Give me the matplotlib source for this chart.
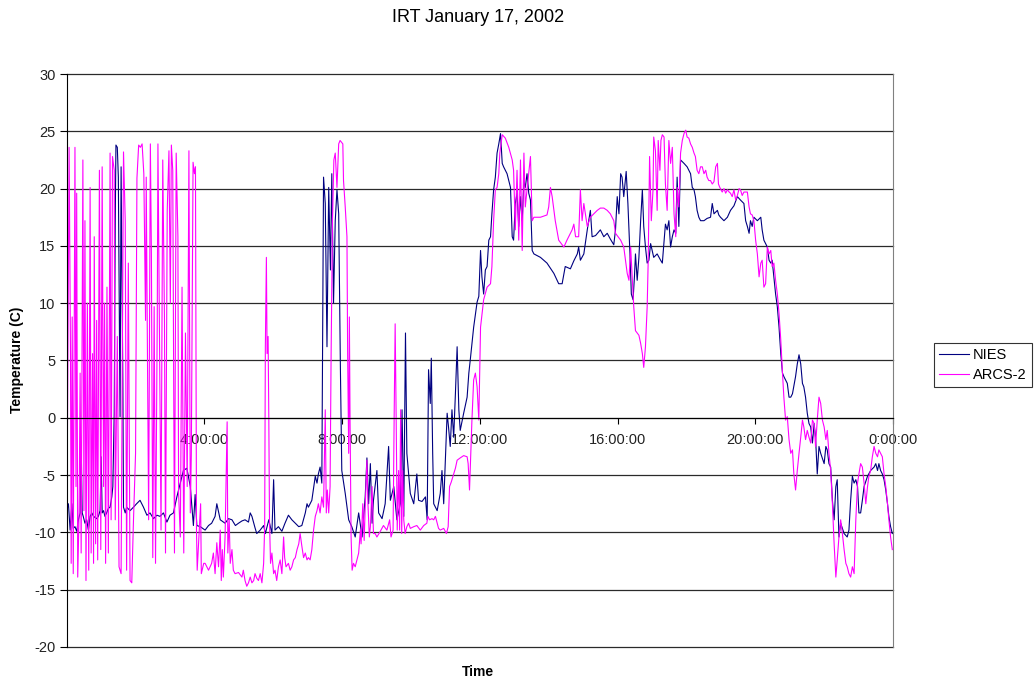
import matplotlib
matplotlib.use("Agg")
import matplotlib.pyplot as plt

plt.rcParams['font.family'] = ['Liberation Sans', 'DejaVu Sans']
plt.rcParams['axes.unicode_minus'] = False

title = "IRT January 17, 2002"
series_names = ["NIES", "ARCS-2"]
tick_hours = [4, 8, 12, 16, 20, 24]
tick_labels = ["4:00:00", "8:00:00", "12:00:00", "16:00:00", "20:00:00", "0:00:00"]

# (hour of day, temperature C)
nies_points = [
    (0.00, -8.1), (0.05, -7.5), (0.10, -9.8), (0.15, -7.5), (0.19, -9.65), (0.24, -9.5),
    (0.29, -9.9), (0.34, -8.9), (0.39, -8.3), (0.42, -2.2), (0.45, -8.3), (0.48, -8.6),
    (0.53, -9.2), (0.58, -8.9), (0.63, -9.8), (0.68, -8.6), (0.73, -8.3), (0.78, -8.6),
    (0.87, -8.8), (0.92, -8.6), (0.97, -8.1), (1.00, -3.4), (1.03, -8.3), (1.07, -8.1),
    (1.11, -8.6), (1.16, -8.3), (1.21, -7.9), (1.26, -7.8), (1.31, -6.9), (1.34, -6.0),
    (1.38, 0.4), (1.41, 17.2), (1.43, 23.8), (1.47, 23.6), (1.50, 21.0), (1.53, 8.5),
    (1.55, 0.1), (1.58, 21.9), (1.61, 11.4), (1.63, 3.3), (1.65, -7.8), (1.70, -8.3),
    (1.74, -7.8), (1.84, -8.1), (1.94, -7.8), (2.03, -7.5), (2.13, -7.2), (2.23, -7.8),
    (2.33, -8.5), (2.42, -8.3), (2.52, -8.8), (2.62, -8.5), (2.71, -8.6), (2.81, -8.3),
    (2.91, -9.1), (3.00, -8.5), (3.10, -8.3), (3.20, -6.9), (3.39, -4.6), (3.49, -4.4),
    (3.59, -6.0), (3.68, -9.4), (3.73, -6.7), (3.78, -9.4), (3.88, -9.5),
    (4.02, -9.8), (4.12, -9.4), (4.21, -9.2), (4.31, -8.6), (4.36, -7.5), (4.46, -8.9),
    (4.60, -9.2), (4.70, -8.8), (4.80, -8.9), (4.90, -9.4), (4.99, -9.2), (5.09, -9.0),
    (5.18, -8.9), (5.28, -9.1), (5.33, -8.3), (5.38, -8.6), (5.47, -9.6), (5.52, -10.1),
    (5.62, -9.8), (5.72, -9.4), (5.77, -10.1), (5.87, -8.9), (5.96, -10.1), (6.01, -5.4),
    (6.05, -9.8), (6.15, -9.5), (6.25, -9.9), (6.34, -9.2), (6.44, -8.5), (6.54, -8.9),
    (6.64, -9.2), (6.74, -9.5), (6.83, -9.4), (6.93, -8.3), (6.98, -7.5), (7.02, -7.8),
    (7.12, -7.2), (7.22, -5.1), (7.27, -5.7), (7.31, -4.9), (7.36, -4.3), (7.41, -5.7),
    (7.46, 21.0), (7.51, 18.7), (7.56, 6.2), (7.61, 20.1), (7.66, 12.9), (7.70, 21.3),
    (7.75, 10.0), (7.80, 17.2), (7.85, 19.9), (7.90, 17.8), (7.95, 4.2), (7.99, -4.6),
    (8.09, -6.6), (8.19, -8.9), (8.28, -9.5), (8.38, -10.4), (8.48, -8.3), (8.58, -10.4),
    (8.67, -6.9), (8.72, -3.5), (8.77, -7.5), (8.82, -4.0), (8.87, -9.2), (8.91, -7.2),
    (9.01, -4.6), (9.06, -8.3), (9.16, -8.8), (9.25, -7.5), (9.35, -2.5), (9.40, -7.2),
    (9.50, -6.0), (9.59, -8.9), (9.69, -7.5), (9.74, 0.7), (9.79, -8.6), (9.84, 7.4),
    (9.88, -3.1), (9.98, -6.6), (10.08, -7.5), (10.17, -4.9), (10.22, -7.2), (10.32, -7.3),
    (10.42, -6.9), (10.47, -8.9), (10.51, 4.2), (10.56, 1.25), (10.59, 5.2), (10.63, -3.1),
    (10.66, -7.5), (10.76, -8.1), (10.85, -6.6), (10.90, -4.6), (10.95, -7.5), (11.05, 0.4),
    (11.09, -0.8), (11.14, -2.5), (11.19, 0.7), (11.24, -1.7), (11.29, 2.1), (11.34, 6.2),
    (11.39, 0.7), (11.43, -1.1), (11.53, 0.4), (11.63, 1.8), (11.68, 3.9), (11.72, 5.0),
    (11.82, 7.9), (11.92, 10.1), (11.97, 10.6), (12.02, 14.6), (12.06, 12.3), (12.11, 10.8),
    (12.16, 12.9), (12.21, 13.2), (12.26, 15.5), (12.31, 15.8), (12.35, 17.8), (12.40, 19.9),
    (12.45, 21.0), (12.50, 23.1), (12.55, 23.9), (12.60, 24.8), (12.65, 22.2), (12.69, 21.9),
    (12.79, 21.3), (12.89, 20.1), (12.94, 15.8), (12.98, 15.5), (13.03, 18.7), (13.08, 19.6),
    (13.13, 16.7), (13.18, 19.3), (13.23, 17.2), (13.28, 20.7), (13.32, 20.1), (13.37, 21.3),
    (13.42, 19.6), (13.47, 19.0), (13.52, 14.6), (13.57, 14.3), (13.76, 14.0), (13.95, 13.5),
    (14.15, 12.6), (14.29, 11.7), (14.39, 11.7), (14.48, 13.2), (14.63, 13.0), (14.73, 13.7),
    (14.83, 14.3), (14.87, 14.9), (14.92, 13.75), (15.02, 14.3), (15.12, 16.4), (15.21, 18.1),
    (15.26, 15.8), (15.36, 15.9), (15.50, 16.4), (15.60, 15.8), (15.70, 16.1), (15.79, 15.6),
    (15.89, 15.1), (15.94, 16.4), (15.99, 19.3), (16.04, 17.8), (16.09, 21.3), (16.13, 21.0),
    (16.18, 19.3), (16.25, 21.5), (16.30, 18.7), (16.36, 14.3), (16.40, 10.8), (16.45, 10.3),
    (16.49, 12.3), (16.52, 14.3), (16.57, 12.0), (16.62, 14.0), (16.67, 17.2), (16.72, 19.9),
    (16.76, 16.7), (16.81, 14.9), (16.86, 13.5), (16.91, 13.75), (16.96, 15.2), (17.05, 14.0),
    (17.15, 14.3), (17.25, 13.75), (17.30, 13.5), (17.39, 16.9), (17.44, 16.4), (17.49, 17.2),
    (17.54, 14.9), (17.59, 15.8), (17.64, 16.4), (17.69, 16.1), (17.73, 21.0), (17.78, 16.7),
    (17.83, 22.5), (17.93, 22.2), (18.02, 21.9), (18.12, 21.3), (18.17, 20.1), (18.22, 19.9),
    (18.26, 19.3), (18.31, 18.1), (18.36, 17.5), (18.41, 17.2), (18.51, 17.2), (18.60, 17.4),
    (18.70, 17.5), (18.75, 18.7), (18.80, 17.8), (18.90, 18.1), (18.94, 17.7), (18.99, 17.5),
    (19.09, 17.2), (19.19, 17.5), (19.28, 18.1), (19.38, 18.5), (19.48, 19.3), (19.57, 19.0),
    (19.67, 18.7), (19.72, 17.2), (19.77, 16.7), (19.82, 16.1), (19.86, 17.2), (19.91, 16.7),
    (19.96, 17.5), (20.06, 17.2), (20.16, 17.5), (20.20, 16.4), (20.25, 15.5), (20.35, 14.9),
    (20.40, 13.75), (20.45, 13.5), (20.49, 13.75), (20.54, 12.3), (20.59, 10.8), (20.64, 9.7),
    (20.69, 7.9), (20.74, 5.6), (20.79, 3.9), (20.83, 3.6), (20.93, 3.0), (20.98, 1.8),
    (21.03, 1.8), (21.08, 2.1), (21.17, 3.6), (21.22, 4.7), (21.27, 5.5), (21.32, 4.7),
    (21.37, 3.0), (21.41, 2.7), (21.46, 1.8), (21.51, 0.4), (21.56, -0.5), (21.61, -0.8),
    (21.66, -2.2), (21.71, -0.5), (21.75, -1.7), (21.80, -4.9), (21.85, -2.5), (21.90, -3.1),
    (22.00, -4.0), (22.05, -2.5), (22.09, -2.8), (22.14, -4.0), (22.19, -4.3), (22.24, -7.2),
    (22.29, -8.9), (22.34, -6.0), (22.38, -5.4), (22.43, -10.4), (22.48, -9.2), (22.58, -10.1),
    (22.67, -10.4), (22.72, -9.8), (22.77, -7.2), (22.82, -5.1), (22.87, -5.7), (22.92, -5.4),
    (22.97, -6.0), (23.01, -8.3), (23.06, -8.3), (23.11, -7.2), (23.16, -6.0), (23.26, -5.1),
    (23.35, -4.6), (23.45, -4.3), (23.50, -4.0), (23.55, -4.6), (23.59, -4.0), (23.64, -4.6),
    (23.69, -4.9), (23.74, -5.4), (23.79, -6.3), (23.84, -7.5), (23.88, -8.6), (23.93, -9.5),
    (23.98, -10.1),
]

arcs_points = [
    (0.00, -12.4), (0.07, 23.6), (0.11, 5.6), (0.13, -12.7), (0.16, 8.8), (0.19, -13.6),
    (0.24, 23.6), (0.27, -6.0), (0.29, 19.6), (0.32, -13.9), (0.36, -8.3), (0.39, 3.9),
    (0.42, -11.8), (0.47, 22.5), (0.50, -8.1), (0.53, 17.2), (0.56, -14.2), (0.60, 10.0),
    (0.64, -13.3), (0.68, 20.1), (0.71, -11.8), (0.75, 5.6), (0.78, -12.7), (0.80, 15.8),
    (0.84, -11.0), (0.87, 8.5), (0.90, -12.4), (0.95, 21.6), (0.99, -11.5), (1.03, 21.9),
    (1.07, -6.0), (1.10, 10.0), (1.13, -12.7), (1.17, 11.4), (1.21, -11.8), (1.26, 23.1),
    (1.29, -8.9), (1.33, 22.8), (1.38, 21.6), (1.41, -8.9), (1.47, 7.1), (1.52, -13.0),
    (1.58, -13.6), (1.65, 23.2), (1.70, 17.2), (1.74, -13.3), (1.79, 13.5), (1.84, -14.2),
    (1.89, -14.4), (1.94, -8.9), (2.00, -3.1), (2.04, 20.9), (2.09, 23.8), (2.14, 23.6),
    (2.19, 23.9), (2.24, 21.3), (2.29, 8.5), (2.31, 21.0), (2.33, 12.0), (2.38, -8.9),
    (2.43, 23.9), (2.46, 14.3), (2.50, -12.2), (2.54, 9.7), (2.58, -12.7), (2.63, 8.5),
    (2.65, 23.9), (2.69, 9.4), (2.74, -9.8), (2.79, 22.5), (2.84, 8.5), (2.87, -11.8),
    (2.92, 18.1), (2.97, 23.3), (3.01, 10.0), (3.04, 23.8), (3.08, 21.6), (3.13, -11.8),
    (3.18, 23.1), (3.23, 15.8), (3.25, -6.6), (3.30, -10.4), (3.35, 11.4), (3.40, -11.8),
    (3.45, 7.4), (3.50, -6.0), (3.55, 23.3), (3.59, -8.3), (3.62, -3.1), (3.67, 22.3),
    (3.71, 21.3), (3.74, 21.9), (3.77, -9.8), (3.79, -13.3), (3.84, -10.4), (3.89, -7.5),
    (3.91, -13.6), (3.98, -12.7),
    (4.02, -12.7), (4.12, -13.3), (4.21, -12.7), (4.26, -11.8), (4.31, -13.6), (4.36, -10.9),
    (4.41, -13.0), (4.46, -9.8), (4.49, -14.2), (4.52, -11.5), (4.55, -13.9), (4.60, -10.4),
    (4.63, -5.1), (4.66, -0.35), (4.68, -11.8), (4.72, -8.9), (4.75, -12.7), (4.80, -11.5),
    (4.84, -13.3), (4.89, -13.6), (4.99, -13.5), (5.09, -13.9), (5.13, -13.3), (5.18, -14.2),
    (5.23, -14.7), (5.28, -14.4), (5.33, -13.9), (5.38, -14.4), (5.43, -14.2), (5.47, -13.6),
    (5.52, -14.0), (5.57, -14.2), (5.62, -13.6), (5.67, -14.4), (5.72, -12.7), (5.75, -9.5),
    (5.77, 6.2), (5.80, 14.0), (5.82, 5.6), (5.85, 7.1), (5.87, 0.1), (5.89, -8.9),
    (5.92, -12.7), (5.96, -11.8), (6.01, -13.6), (6.05, -13.3), (6.10, -14.2), (6.15, -13.0),
    (6.20, -12.4), (6.25, -13.6), (6.30, -10.4), (6.33, -12.2), (6.37, -13.0), (6.44, -12.7),
    (6.49, -13.3), (6.54, -13.0), (6.59, -12.4), (6.64, -12.2), (6.69, -11.5), (6.74, -11.0),
    (6.78, -10.1), (6.83, -11.2), (6.88, -12.2), (6.93, -11.8), (6.98, -12.4), (7.02, -12.2),
    (7.07, -12.4), (7.12, -11.5), (7.17, -9.8), (7.22, -8.6), (7.27, -8.1), (7.31, -7.5),
    (7.36, -8.3), (7.41, -6.9), (7.46, -7.8), (7.51, 0.7), (7.54, -8.3), (7.57, -6.3),
    (7.61, -8.3), (7.65, -6.0), (7.68, 5.6), (7.72, 17.2), (7.76, 22.5), (7.80, 23.1),
    (7.85, 20.1), (7.90, 23.9), (7.94, 24.2),
    (8.02, 23.9), (8.04, 20.7), (8.09, 18.4), (8.14, 15.8), (8.16, 5.6), (8.19, -3.1),
    (8.21, 8.8), (8.23, -0.2), (8.26, -10.4), (8.29, -13.3), (8.33, -12.7), (8.38, -13.0),
    (8.43, -12.4), (8.48, -11.8), (8.53, -9.8), (8.55, -11.0), (8.60, -7.5), (8.64, -10.7),
    (8.67, -7.8), (8.72, -3.7), (8.75, -7.5), (8.79, -10.4), (8.82, -9.5), (8.87, -6.0),
    (8.91, -10.1), (8.96, -10.1), (9.01, -10.4), (9.11, -9.9), (9.20, -9.4), (9.30, -9.8),
    (9.38, -8.9), (9.42, -10.4), (9.48, -9.8), (9.51, -0.2), (9.54, 8.2), (9.57, -0.2),
    (9.60, -9.8), (9.64, -4.6), (9.67, -9.8), (9.70, 0.7), (9.73, -10.1), (9.76, -4.6),
    (9.79, -8.9), (9.83, -10.1), (9.88, -9.5), (9.93, -9.2), (9.98, -9.65), (10.08, -9.5),
    (10.17, -9.4), (10.27, -9.8), (10.37, -9.4), (10.46, -9.2), (10.49, -8.6), (10.54, -8.9),
    (10.61, -8.8), (10.66, -8.9), (10.71, -8.6), (10.76, -9.2), (10.80, -9.65), (10.85, -9.8),
    (10.95, -9.65), (11.03, -10.1), (11.08, -9.5), (11.12, -6.0), (11.17, -5.6), (11.24, -4.9),
    (11.29, -4.4), (11.34, -3.7), (11.43, -3.5), (11.53, -3.3), (11.63, -3.4), (11.66, -4.0),
    (11.70, -6.3), (11.77, -0.2), (11.82, 3.3), (11.87, 3.9), (11.92, 2.7), (11.97, -0.2),
    (12.02, 7.9), (12.11, 10.3), (12.21, 11.4), (12.31, 11.7), (12.35, 13.2), (12.40, 17.2),
    (12.45, 19.9), (12.50, 20.1), (12.55, 21.3), (12.58, 23.1), (12.65, 24.7), (12.74, 24.4),
    (12.84, 23.6), (12.94, 22.5), (12.98, 21.6), (13.03, 16.4), (13.08, 21.6), (13.13, 15.5),
    (13.18, 22.5), (13.23, 14.6), (13.28, 23.1), (13.32, 18.4), (13.37, 19.9), (13.47, 22.8),
    (13.52, 17.2), (13.57, 17.5), (13.76, 17.5), (13.95, 17.7), (14.00, 18.4), (14.05, 20.1),
    (14.10, 19.3), (14.19, 17.2), (14.29, 15.5), (14.44, 14.9), (14.53, 15.5), (14.68, 16.4),
    (14.73, 16.9), (14.78, 15.8), (14.87, 15.8), (14.92, 19.9), (14.97, 17.2),
    (15.02, 18.7), (15.12, 16.7), (15.21, 17.5), (15.31, 17.8), (15.41, 18.1), (15.50, 18.3),
    (15.60, 18.3), (15.70, 18.1), (15.79, 17.8), (15.89, 17.2), (15.94, 16.1), (15.99, 15.9),
    (16.09, 15.5), (16.18, 14.9), (16.23, 13.75), (16.28, 12.6), (16.33, 12.0), (16.38, 14.9),
    (16.42, 12.6), (16.47, 9.7), (16.52, 7.6), (16.57, 7.4), (16.62, 7.2), (16.67, 6.5),
    (16.72, 5.6), (16.76, 4.4), (16.81, 6.2), (16.86, 9.7), (16.89, 13.75), (16.93, 22.8),
    (16.98, 17.2), (17.03, 19.9), (17.05, 24.5), (17.10, 23.3), (17.15, 18.1), (17.18, 24.2),
    (17.23, 21.6), (17.26, 24.2), (17.30, 24.7), (17.35, 24.5), (17.39, 20.4), (17.44, 18.1),
    (17.49, 24.2), (17.54, 22.2), (17.59, 23.6), (17.64, 17.8), (17.69, 15.8), (17.73, 20.1),
    (17.78, 18.4), (17.83, 23.1), (17.88, 24.2), (17.93, 24.8), (17.98, 25.1), (18.02, 24.5),
    (18.07, 24.4), (18.12, 23.9), (18.17, 23.6), (18.22, 23.1), (18.26, 22.8), (18.31, 21.6),
    (18.36, 21.3), (18.41, 21.9), (18.46, 21.9), (18.51, 21.3), (18.56, 21.6), (18.60, 21.0),
    (18.65, 20.7), (18.70, 20.7), (18.75, 20.4), (18.80, 20.6), (18.85, 21.9), (18.90, 22.2),
    (18.93, 20.4), (18.97, 20.1), (19.04, 19.7), (19.09, 20.0), (19.14, 19.6), (19.19, 19.9),
    (19.24, 19.7), (19.28, 19.6), (19.33, 19.3), (19.38, 19.9), (19.43, 19.0), (19.48, 19.4),
    (19.53, 20.0), (19.57, 19.9), (19.62, 19.4), (19.67, 19.7), (19.72, 19.7), (19.77, 19.7),
    (19.82, 18.4), (19.86, 17.8), (19.91, 17.7), (19.96, 17.2), (20.01, 15.5), (20.06, 14.3),
    (20.11, 12.3), (20.16, 13.5), (20.20, 13.75), (20.25, 11.4), (20.30, 11.7), (20.35, 14.9),
    (20.40, 14.3), (20.45, 14.6), (20.49, 13.2), (20.54, 13.5), (20.59, 12.0), (20.64, 10.8),
    (20.69, 9.1), (20.74, 6.8), (20.79, 3.9), (20.83, 1.8), (20.88, -0.2), (20.93, 0.1),
    (20.98, -1.9), (21.03, -3.1), (21.08, -2.8), (21.12, -4.9), (21.17, -6.3), (21.22, -4.6),
    (21.27, -3.1), (21.32, -1.7), (21.37, -0.2), (21.41, -0.8), (21.46, -1.9), (21.51, -1.1),
    (21.56, -1.7), (21.61, -2.2), (21.66, -0.2), (21.71, -0.5), (21.75, -2.5), (21.80, -0.2),
    (21.85, 1.8), (21.90, 1.25), (21.95, -0.2), (22.00, -0.8), (22.05, -1.9), (22.09, -1.1),
    (22.14, -3.1), (22.19, -4.6), (22.24, -7.5), (22.29, -11.0), (22.34, -13.9), (22.38, -12.4),
    (22.43, -10.4), (22.48, -8.9), (22.53, -10.1), (22.58, -11.5), (22.63, -12.7), (22.67, -13.0),
    (22.72, -13.6), (22.77, -13.9), (22.82, -13.0), (22.87, -13.6), (22.92, -8.9), (22.97, -5.7),
    (23.01, -4.9), (23.06, -4.0), (23.11, -4.3), (23.16, -5.7), (23.21, -7.5), (23.26, -6.0),
    (23.30, -5.1), (23.35, -4.6), (23.40, -3.4), (23.45, -2.5), (23.50, -3.1), (23.55, -3.4),
    (23.59, -2.8), (23.64, -3.1), (23.69, -3.4), (23.74, -4.9), (23.79, -6.0), (23.84, -7.5),
    (23.88, -8.9), (23.93, -10.4), (23.98, -11.5),
]


def main():
    fig = plt.figure(figsize=(10.34, 6.86), dpi=100)
    W, H = 1034, 686
    ax = fig.add_axes([66.7 / W, 1 - 647 / H, (893 - 66.7) / W, 573 / H])

    nies_h = [p[0] for p in nies_points]
    nies_t = [p[1] for p in nies_points]
    arcs_h = [p[0] for p in arcs_points]
    arcs_t = [p[1] for p in arcs_points]

    ax.plot(nies_h, nies_t, color='#000080', lw=0.8, label=series_names[0], zorder=3)
    ax.plot(arcs_h, arcs_t, color='#FF00FF', lw=0.8, label=series_names[1], zorder=3)

    ax.set_xlim(0, 24)
    ax.set_ylim(-20, 30)
    ax.set_yticks(range(-20, 31, 5))
    ax.set_xticks(tick_hours)
    ax.set_xticklabels(tick_labels)
    ax.yaxis.grid(True, color='#2a2a2a', lw=0.9)
    ax.set_axisbelow(True)
    # keep the edge gridlines (30 and -20) at full width
    for gl in ax.yaxis.get_gridlines():
        gl.set_clip_on(False)

    ax.spines['bottom'].set_position(('data', 0))
    ax.spines['top'].set_visible(False)
    ax.spines['right'].set_color('#808080')
    for s in ['left', 'bottom']:
        ax.spines[s].set_color('black')
        ax.spines[s].set_linewidth(0.8)
        ax.spines[s].set_zorder(4)

    ax.tick_params(axis='x', direction='out', length=4, width=0.8, pad=7,
                   labelsize=10.5, labelcolor='#222222')
    ax.tick_params(axis='y', direction='out', length=5, width=0.8, pad=3,
                   labelsize=10.5, labelcolor='#222222')

    fig.text(478 / W, 1 - 18 / H, title, ha='center', va='center', fontsize=13)
    fig.text(17 / W, 1 - 360 / H, "Temperature (C)", rotation=90, ha='center',
             va='center', fontsize=10, fontweight='bold')
    fig.text(478 / W, 1 - 672 / H, "Time", ha='center', va='center',
             fontsize=10, fontweight='bold')

    leg = fig.legend(loc='center', bbox_to_anchor=(983 / W, 1 - 365 / H),
                     frameon=True, fancybox=False, edgecolor='black',
                     fontsize=10.5, handlelength=2.0, handletextpad=0.3,
                     borderpad=0.35, labelspacing=0.4, borderaxespad=0)
    leg.get_frame().set_linewidth(0.8)

    fig.savefig('out.png', dpi=100)


if __name__ == "__main__":
    main()
